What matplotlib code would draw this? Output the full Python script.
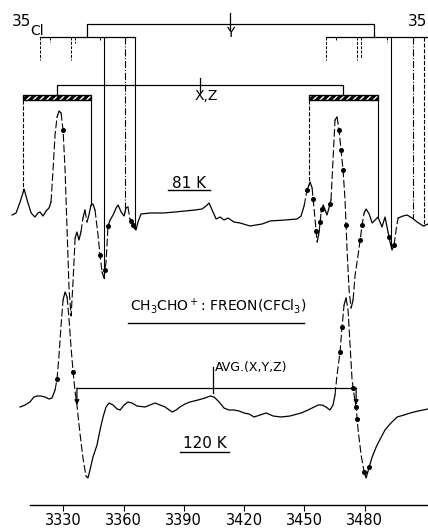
import numpy as np
import matplotlib
matplotlib.use('Agg')
import matplotlib.pyplot as plt
from matplotlib.patches import Rectangle

# ESR of CH3CHO+ in CFCl3
# field in gauss, amplitude in arbitrary units (relative to baseline)
field_81 = [3304.5, 3306.5, 3308.5, 3310.5, 3312.0, 3314.0, 3315.9, 3317.4, 3318.4, 3319.9,
            3321.4, 3322.9, 3323.9, 3324.9, 3325.9, 3326.9, 3327.9, 3328.9, 3329.9, 3330.9,
            3331.9, 3332.9, 3333.9, 3334.9, 3335.9, 3336.8, 3337.8, 3338.8, 3339.8, 3340.8,
            3341.8, 3342.8, 3343.8, 3344.8, 3345.8, 3347.3, 3348.3, 3349.3, 3350.3, 3351.3,
            3352.3, 3353.3, 3354.8, 3356.3, 3357.3, 3358.8, 3360.3, 3361.2, 3362.2, 3363.2,
            3364.2, 3365.2, 3366.2, 3367.2, 3368.7, 3373.2, 3379.7, 3385.7, 3390.6, 3395.6,
            3399.1, 3401.1, 3402.6, 3404.1, 3406.1, 3408.1, 3410.0, 3412.0, 3415.0, 3418.0,
            3423.0, 3426.0, 3429.0, 3433.0, 3440.4, 3446.4, 3448.4, 3449.9, 3451.4, 3452.9,
            3453.9, 3454.4, 3455.4, 3456.4, 3457.4, 3458.4, 3459.4, 3460.4, 3461.3, 3462.3,
            3463.3, 3464.3, 3465.3, 3466.3, 3467.3, 3468.3, 3469.3, 3470.3, 3471.3, 3472.3,
            3473.3, 3474.3, 3475.3, 3476.8, 3477.8, 3478.8, 3479.8, 3480.8, 3482.3, 3483.8,
            3485.3, 3486.7, 3488.7, 3490.2, 3491.7, 3492.7, 3493.7, 3494.7, 3495.7, 3496.7,
            3499.2, 3501.2, 3503.7, 3506.2, 3509.2, 3511.6]
amp_81 = [-2, 0, 11, 24, 13, 0, -4, 0, 1, -3,
          2, 5, 11, 43, 78, 96, 102, 100, 83, 43,
          -17, -77, -103, -67, -25, -19, -27, -19, -5, 3,
          -9, -2, 8, 9, 3, -22, -42, -59, -65, -49,
          -13, -7, -2, 5, 8, 1, -3, 5, 6, -6,
          -9, -15, -17, -9, -1, 0, 0, 1, 2, 3,
          4, 7, 10, 3, -6, -4, -7, -5, -9, -10,
          -13, -12, -11, -8, -7, -6, -3, 7, 23, 31,
          25, 14, -7, -29, -19, 1, 8, 3, -2, 5,
          13, 53, 93, 96, 83, 63, 43, 13, -37, -77,
          -95, -87, -62, -42, -27, -12, 0, 4, -1, -10,
          -7, -4, -14, -4, -19, -29, -37, -32, -17, -5,
          -3, -2, -5, -9, -13, -11]

field_120 = [3308.5, 3311.0, 3313.4, 3315.4, 3316.9, 3318.9, 3320.9, 3322.9, 3324.4, 3325.9,
             3326.9, 3327.9, 3328.9, 3329.9, 3330.9, 3331.9, 3332.9, 3333.9, 3334.9, 3335.9,
             3336.8, 3338.3, 3339.8, 3341.3, 3342.3, 3343.3, 3344.8, 3346.8, 3348.3, 3349.8,
             3351.3, 3352.8, 3354.8, 3356.8, 3358.3, 3360.3, 3362.2, 3364.2, 3366.7, 3370.7,
             3373.2, 3375.7, 3378.2, 3380.7, 3384.2, 3386.2, 3388.1, 3390.6, 3393.1, 3397.1,
             3400.6, 3403.1, 3405.1, 3407.6, 3410.0, 3412.5, 3415.0, 3417.5, 3420.0, 3422.5,
             3425.0, 3428.0, 3431.0, 3434.5, 3438.4, 3442.9, 3448.4, 3451.9, 3454.9, 3456.9,
             3458.9, 3460.8, 3462.8, 3464.3, 3465.3, 3466.3, 3467.8, 3468.8, 3469.8, 3470.8,
             3471.8, 3472.8, 3473.8, 3474.8, 3475.8, 3476.8, 3478.3, 3479.8, 3480.8, 3482.3,
             3483.8, 3485.8, 3487.8, 3490.2, 3492.7, 3496.2, 3499.7, 3502.7, 3506.7, 3511.6]
amp_120 = [-2, 0, 3, 8, 9, 9, 8, 6, 7, 15,
           26, 50, 80, 105, 113, 108, 85, 57, 33, 13,
           0, -28, -53, -71, -73, -65, -52, -40, -25, -12,
           -2, 2, 0, -4, -5, 0, 3, 2, -1, -2,
           0, 2, 0, -2, -7, -5, -2, 1, 3, 5,
           7, 9, 8, 3, -3, -5, -5, -6, -8, -9,
           -12, -10, -8, -11, -12, -11, -8, -5, -2, 0,
           0, -2, -5, 0, 10, 30, 53, 78, 100, 107,
           95, 60, 25, 10, -2, -25, -50, -67, -73, -62,
           -52, -42, -34, -25, -19, -12, -10, -8, -6, -4]

# marked points on the traces
dots_81 = [3329.9, 3348.3, 3350.8, 3352.3, 3363.7, 3364.7, 3451.4, 3454.4, 3455.9, 3457.9,
           3458.9, 3462.8, 3467.3, 3468.3, 3469.3, 3470.8, 3477.8, 3478.8, 3492.2, 3494.7]
dots_120 = [3326.9, 3334.9, 3467.8, 3468.8, 3474.3, 3475.8, 3476.3, 3479.8, 3482.3]

# stick diagram (G)
cl_short = [3318.4, 3323.4, 3333.9, 3335.9, 3348.3, 3460.8, 3465.8, 3476.3, 3478.3, 3491.2]
cl_long = [3350.3, 3360.8, 3365.7, 3493.2, 3504.2, 3509.7]
xz_ends = [3310.0, 3343.8, 3452.4, 3486.7]
y_span = [3341.8, 3484.8]
xz_span = [3326.9, 3469.3]
avg_span = [3336.8, 3475.8]
cl_bars = [[3318.4, 3365.7], [3460.8, 3520.0]]
y_center = 3413.0
xz_center = 3398.1
avg_center = 3404.6

tick_fields = [3330, 3360, 3390, 3420, 3450, 3480]

fig = plt.figure(figsize=(4.28, 5.28), dpi=100)
ax = fig.add_axes([0, 23 / 528, 1, 505 / 528])
ax.set_xlim(3298.5, 3511.6)
ax.set_ylim(505, 0)

base81 = 213
base120 = 405
px_per_g = 1 / 0.498


def trace(field, amp, base):
    f = np.array(field)
    r = base - np.array(amp, dtype=float)
    slope = np.abs(np.diff(r) / (np.diff(f) * px_per_g))
    steep = slope > 5
    i = 0
    n = len(f)
    while i < n - 1:
        j = i
        while j < n - 1 and steep[j] == steep[i]:
            j += 1
        if steep[i]:
            ax.plot(f[i:j + 1], r[i:j + 1], color='k', lw=0.8, dashes=(7, 2.5))
        else:
            ax.plot(f[i:j + 1], r[i:j + 1], color='k', lw=0.9)
        i = j
    return f, r


def row_on(field, amp, base, x):
    return base - np.interp(x, field, amp)


trace(field_81, amp_81, base81)
trace(field_120, amp_120, base120)

ax.plot(dots_81, [row_on(field_81, amp_81, base81, d) for d in dots_81], 'ko', ms=2.6)
ax.plot(dots_120, [row_on(field_120, amp_120, base120, d) for d in dots_120], 'ko', ms=2.6)

# Y bracket and 35Cl bars
ax.plot([y_span[0], y_span[0], y_span[1], y_span[1]], [37, 24, 24, 37], color='k', lw=0.9)
ax.plot([y_center, y_center], [13, 30], color='k', lw=0.9)
ax.text(y_center, 33, 'Y', ha='center', va='center', fontsize=10)
for b in cl_bars:
    ax.plot(b, [37, 37], color='k', lw=0.9)

short_bottoms = [60, 42, 60, 43, 40, 60, 40, 60, 58, 42]
for f, bt in zip(cl_short, short_bottoms):
    ax.plot([f, f], [37, bt], color='k', lw=0.7, dashes=(3, 1.5))

long_styles = ['-', '-.', '-', '-', '-.', '--']
for f, ls in zip(cl_long, long_styles):
    ax.plot([f, f], [37, row_on(field_81, amp_81, base81, f)], color='k', lw=0.8, ls=ls)

# X,Z bracket and hatched bars
ax.plot([xz_span[0], xz_span[0], xz_span[1], xz_span[1]], [96, 85, 85, 95], color='k', lw=0.9)
ax.plot([xz_center, xz_center], [78, 92], color='k', lw=0.9)
ax.text(xz_center + 3, 96, 'X,Z', ha='center', va='center', fontsize=10)
for k in range(0, 4, 2):
    w = xz_ends[k + 1] - xz_ends[k]
    ax.add_patch(Rectangle((xz_ends[k], 95), w, 5, facecolor='k', edgecolor='white',
                           lw=0, hatch='/////'))
    ax.add_patch(Rectangle((xz_ends[k], 95), w, 5, facecolor='none', edgecolor='k', lw=1.0))
xz_styles = ['--', '-', '--', '-']
for f, ls in zip(xz_ends, xz_styles):
    ax.plot([f, f], [100, row_on(field_81, amp_81, base81, f)], color='k', lw=0.8, ls=ls)

# AVG bracket
ax.plot(avg_span, [388, 388], color='k', lw=0.9)
ax.plot([avg_center, avg_center], [367, 393], color='k', lw=0.9)
for f in avg_span:
    ax.annotate('', xy=(f, 405), xytext=(f, 388),
                arrowprops=dict(arrowstyle='-|>', color='k', lw=0.9, mutation_scale=7,
                                shrinkA=0, shrinkB=0))
ax.text(3405.6, 368, 'AVG.(X,Y,Z)', ha='left', va='center', fontsize=9)

# labels
ax.text(3392.6, 183, '81 K', ha='center', va='center', fontsize=11)
ax.plot([3382.2, 3403.1], [190, 190], color='k', lw=1.0)
ax.text(3363.2, 306, r'CH$_3$CHO$^+$: FREON(CFCl$_3$)', ha='left', va='center', fontsize=10)
ax.plot([3362.2, 3449.9], [323, 323], color='k', lw=1.0)
ax.text(3400.6, 444, '120 K', ha='center', va='center', fontsize=11)
ax.plot([3388.1, 3412.5], [452, 452], color='k', lw=1.0)
ax.text(3304.5, 21, '35', ha='left', va='center', fontsize=11)
ax.text(3313.4, 31, 'Cl', ha='left', va='center', fontsize=10)
ax.text(3511.0, 21, '35', ha='right', va='center', fontsize=11)

# field axis
for s in ['top', 'left', 'right']:
    ax.spines[s].set_visible(False)
ax.spines['bottom'].set_bounds(3313.4, 3511.6)
ax.spines['bottom'].set_linewidth(1.0)
ax.set_yticks([])
ax.set_xticks(tick_fields)
ax.tick_params(axis='x', direction='out', length=4, width=0.8, labelsize=10.5, pad=1.5)

fig.savefig('out.png', dpi=100)
